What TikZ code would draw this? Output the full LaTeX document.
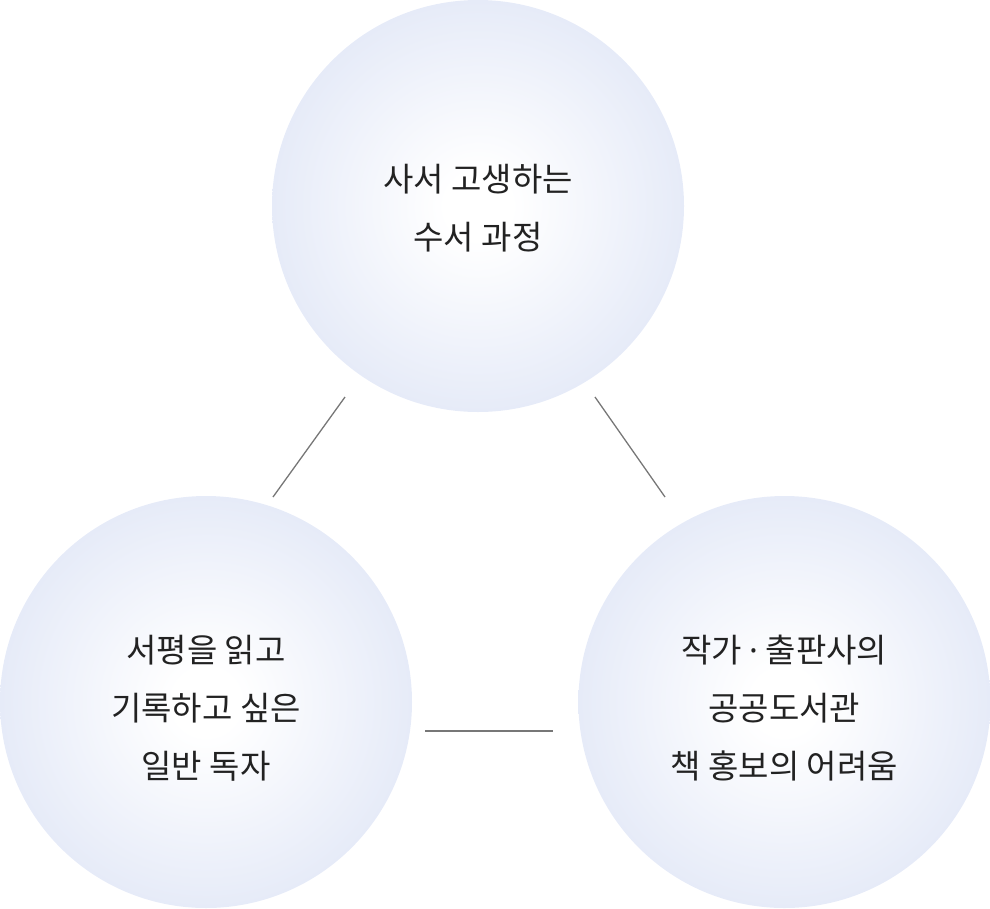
\documentclass[tikz,border=0pt]{standalone}
\usepackage{fontspec}
\newfontfamily\krfont{Noto Sans CJK KR}
\newfontfamily\dotfont{Noto Sans}
\usetikzlibrary{positioning}
\definecolor{bubbleedge}{HTML}{E6EBF8}
\definecolor{linkgray}{HTML}{777777}
\definecolor{textdark}{HTML}{222222}
\pgfdeclareradialshading{bubbleshade}{\pgfpoint{0bp}{0bp}}{%
  color(0bp)=(white); color(4bp)=(white); color(25bp)=(bubbleedge); color(50bp)=(bubbleedge)}
\tikzset{
  bubble/.style={
    circle, shading=bubbleshade, draw=none, inner sep=0pt,
    minimum size=412pt, align=center, text=textdark,
    font=\krfont\fontsize{33pt}{58pt}\selectfont
  },
  lowbubble/.style={bubble, text height=155pt},
  link/.style={draw=linkgray, line width=1.3pt}
}
\begin{document}
\begin{tikzpicture}[x=1pt, y=-1pt]
\useasboundingbox (0,0) rectangle (990,908);

% Circles
\node[bubble, text height=89pt] (librarian) at (478,206) {사서 고생하는\\수서 과정};
\node[lowbubble] (reader) at (206,702) {서평을 읽고\\기록하고 싶은\\일반 독자};
\node[lowbubble, right=166pt of reader] (publisher) {작가 {\dotfont ·} 출판사의\\공공도서관\\책 홍보의 어려움};

% Line ends
\coordinate (lr1) at (345,397);
\coordinate (lr2) at (273,497);
\coordinate (lp1) at (595,397);
\coordinate (lp2) at (665,497);
\coordinate (rp1) at (425,731);
\coordinate (rp2) at (553,731);

% Links
\draw[link] (lr1) -- (lr2);
\draw[link] (lp1) -- (lp2);
\draw[link] (rp1) -- (rp2);

\end{tikzpicture}
\end{document}
